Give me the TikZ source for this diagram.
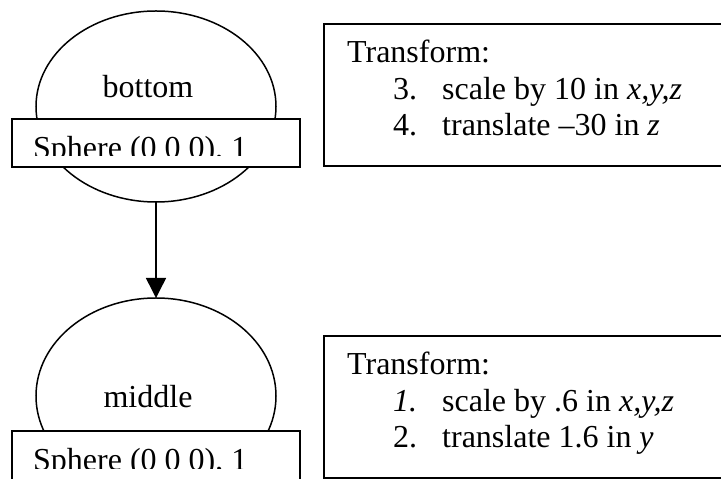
\documentclass[tikz,border=0pt]{standalone}
\usepackage{fontspec}
\setmainfont{Liberation Serif}
\usetikzlibrary{arrows.meta, shapes.geometric, positioning}

\tikzset{
  obj/.style={ellipse, draw, line width=1.5pt, minimum width=240pt, inner sep=0pt, outer sep=0pt},
  geom/.style={draw, fill=white, line width=2pt, minimum width=288pt, minimum height=48pt, outer sep=0pt},
  xform/.style={draw, line width=2.2pt, minimum width=420pt, minimum height=142pt, anchor=north west},
  txt/.style={anchor=base west, inner sep=0pt},
}

\begin{document}
\begin{tikzpicture}[x=1pt, y=1pt, font=\fontsize{32}{36}\selectfont]
\useasboundingbox (0,0) rectangle (721,479);
\clip (0,0) rectangle (721,479);
%bottom sphere
\node[obj, minimum height=191pt] (bottom) at (156,372.5) {};
\node[anchor=base] (bottomlbl) at (148,381) {bottom};
\node[geom] (bottomgeo) at (156,336) {};
\begin{scope}
\clip (12,323) rectangle (300,360);
\node[txt] (bottomsph) at (33,320) {Sphere (0 0 0), 1};
\end{scope}
%middle sphere
\node[obj, minimum height=196pt] (middle) at (156,83) {};
\node[anchor=base] (middlelbl) at (148,71) {middle};
\node[geom, minimum height=60pt] (middlegeo) at (156,18) {};
\begin{scope}
\clip (12,10) rectangle (300,48);
\node[txt] (middlesph) at (33,8.5) {Sphere (0 0 0), 1};
\end{scope}
%edge
\draw[-{Triangle[width=20pt,length=20pt]}, line width=1.5pt] (bottom) -- (middle);
%transforms
\node[xform] (bottomxf) at (323,456) {};
\node[txt] (bt0) at (347,416) {Transform:};
\node[txt] (bt1) at (393,379) {3.};
\node[txt] at (442,379) {scale by 10 in \textit{x,y,z}};
\node[txt] (bt2) at (393,343) {4.};
\node[txt] at (442,343) {translate –30 in \textit{z}};
\node[xform] (middlexf) at (323,144) {};
\node[txt] (mt0) at (347,104) {Transform:};
\node[txt] (mt1) at (393,67) {\textit{1.}};
\node[txt] at (442,67) {scale by .6 in \textit{x,y,z}};
\node[txt] (mt2) at (393,31) {2.};
\node[txt] at (442,31) {translate 1.6 in \textit{y}};
\end{tikzpicture}
\end{document}
